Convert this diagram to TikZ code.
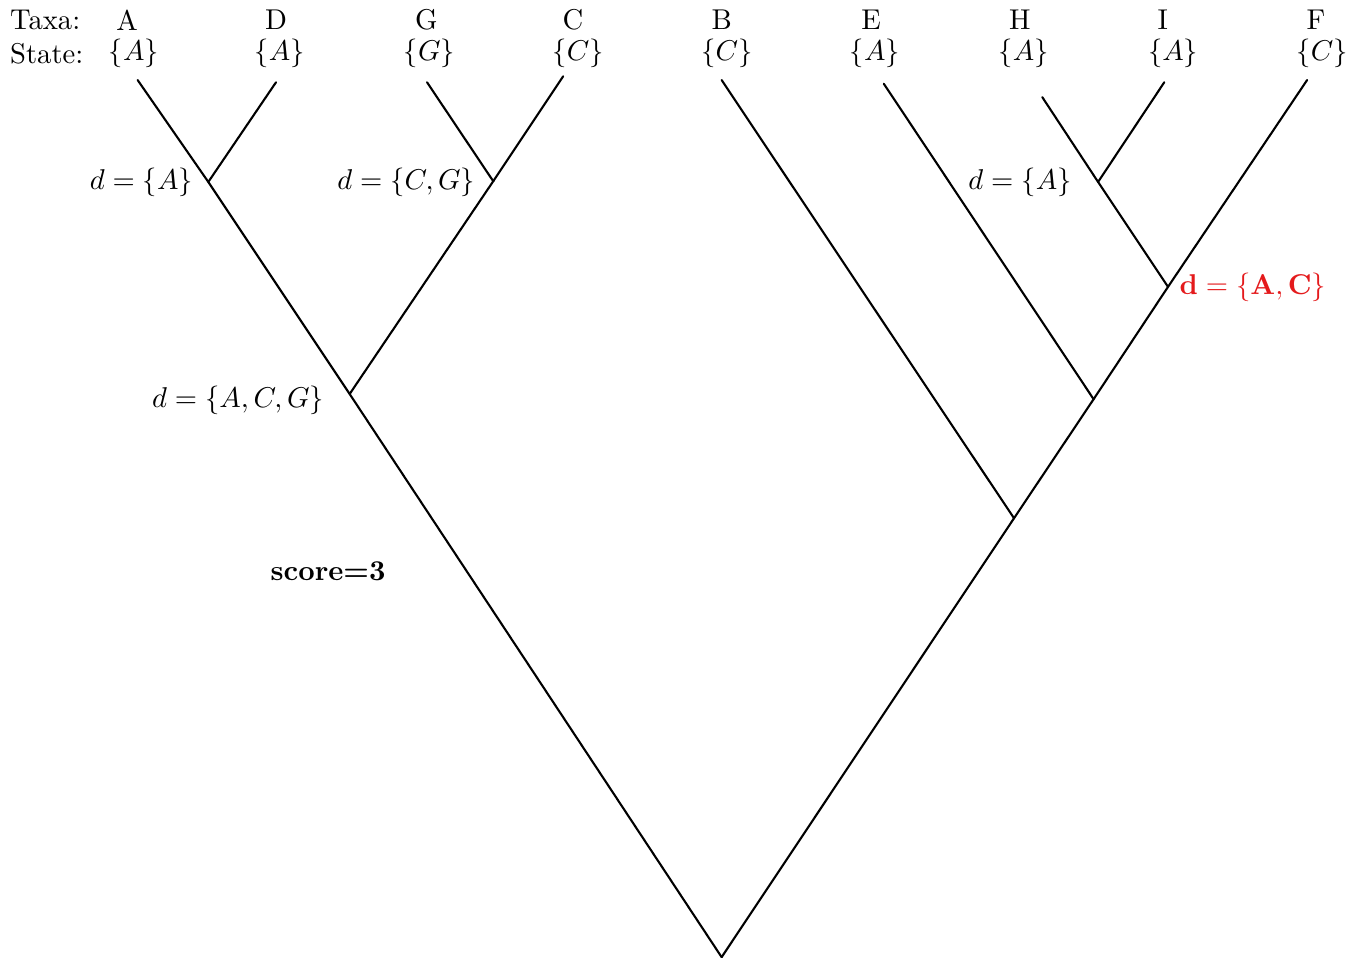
\documentclass[tikz,border=0pt,11pt]{standalone}
\usepackage{amsmath}
\usepackage{amssymb}
\usepackage{xcolor}
\usepackage{tikz}
\usetikzlibrary{positioning, calc}
\definecolor{fitchred}{RGB}{228,26,28}
\tikzstyle{branch} = [thick, line cap=round]
\tikzstyle{dlabel} = [inner sep=0pt]

\begin{document}
\begin{tikzpicture}
\useasboundingbox (0,0) rectangle (18.2,12.876);

% Header rows
\node[anchor=west, inner sep=0pt] (taxahead) at (0.13,12.61) {Taxa:};
\node[anchor=west, inner sep=0pt] (statehead) at (0.13,12.16) {State:};

% Taxa names
\node (tA) at (1.71,12.61) {A};
\node (tD) at (3.71,12.61) {D};
\node (tG) at (5.73,12.61) {G};
\node (tC) at (7.70,12.61) {C};
\node (tB) at (9.70,12.61) {B};
\node (tE) at (11.71,12.61) {E};
\node (tH) at (13.71,12.61) {H};
\node (tI) at (15.63,12.61) {I};
\node (tF) at (17.69,12.61) {F};

% States
\node (sA) at (1.80,12.16) {$\{A\}$};
\node (sD) at (3.76,12.16) {$\{A\}$};
\node (sG) at (5.77,12.16) {$\{G\}$};
\node (sC) at (7.77,12.16) {$\{C\}$};
\node (sB) at (9.77,12.16) {$\{C\}$};
\node (sE) at (11.76,12.16) {$\{A\}$};
\node (sH) at (13.76,12.16) {$\{A\}$};
\node (sI) at (15.77,12.16) {$\{A\}$};
\node (sF) at (17.77,12.16) {$\{C\}$};

% Leaves
\coordinate (A) at (1.85,11.80);
\coordinate (D) at (3.71,11.77);
\coordinate (G) at (5.74,11.77);
\coordinate (C) at (7.57,11.85);
\coordinate (B) at (9.70,11.80);
\coordinate (E) at (11.88,11.75);
\coordinate (H) at (14.01,11.57);
\coordinate (I) at (15.65,11.77);
\coordinate (F) at (17.57,11.80);

% Internal nodes
\coordinate (AD) at (2.80,10.43);
\coordinate (GC) at (6.63,10.44);
\coordinate (ADGC) at (4.70,7.58);
\coordinate (HI) at (14.76,10.43);
\coordinate (HIF) at (15.70,9.02);
\coordinate (EHIF) at (14.70,7.51);
\coordinate (BEHIF) at (13.63,5.91);
\coordinate (root) at (9.70,0.01);

% Left subtree
\draw[branch] (A) -- (AD) -- (ADGC) -- (root);
\draw[branch] (D) -- (AD);
\draw[branch] (G) -- (GC) -- (ADGC);
\draw[branch] (C) -- (GC);

% Right subtree
\draw[branch] (F) -- (HIF) -- (EHIF) -- (BEHIF) -- (root);
\draw[branch] (H) -- (HI) -- (HIF);
\draw[branch] (I) -- (HI);
\draw[branch] (E) -- (EHIF);
\draw[branch] (B) -- (BEHIF);

% Fitch sets
\node[dlabel] (dAD) at (1.90,10.43) {$d=\{A\}$};
\node[dlabel] (dGC) at (5.46,10.43) {$d=\{C,G\}$};
\node[dlabel] (dADGC) at (3.20,7.50) {$d=\{A,C,G\}$};
\node[dlabel] (dHI) at (13.71,10.43) {$d=\{A\}$};
\node[dlabel, text=fitchred] (dHIF) at (16.84,9.02) {$\mathbf{d=\{A,C\}}$};

% Score
\node (score) at (4.41,5.20) {\textbf{score=3}};
\end{tikzpicture}
\end{document}
